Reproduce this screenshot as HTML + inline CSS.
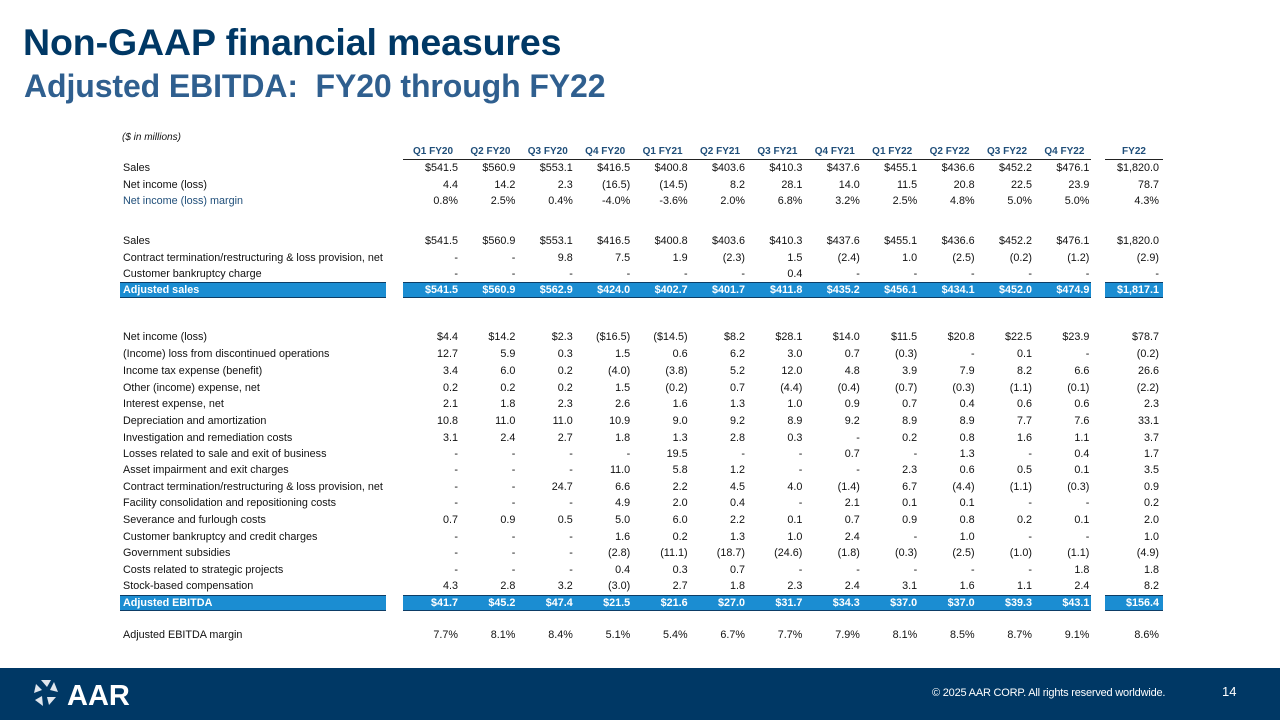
<!DOCTYPE html>
<html><head><meta charset="utf-8">
<style>
body{margin:0;width:1280px;height:720px;position:relative;background:#fff;font-family:"Liberation Sans",Arial,sans-serif;overflow:hidden}
.a{position:absolute;white-space:nowrap}
.t{font-size:10.8px;color:#111;line-height:12px}
.r{text-align:right;width:60px}
.h{font-size:10px;color:#1f4e79;font-weight:bold;text-align:center;width:60px}
.bar{position:absolute;background:#1b8dd2;border-top:1px solid #0d3d66;border-bottom:1px solid #0d3d66}
.w{color:#fff;font-weight:bold}
</style></head><body>
<div class="a" style="left:23px;top:21px;font-size:37.5px;font-weight:bold;color:#003865;letter-spacing:-0.1px">Non-GAAP financial measures</div>
<div class="a" style="left:24px;top:68px;font-size:32px;font-weight:bold;color:#2f5f8f;letter-spacing:-0.1px">Adjusted EBITDA:&nbsp; FY20 through FY22</div>
<div class="a t" style="left:122px;top:132px;font-style:italic;font-size:10px">($ in millions)</div>
<div class="a" style="left:403px;top:159px;width:688px;height:1px;background:#222"></div>
<div class="a" style="left:1105px;top:159px;width:58px;height:1px;background:#222"></div>
<div id="tbl"></div>
<div class="a" style="left:0;top:668px;width:1280px;height:52px;background:#003865">
  <svg class="a" style="left:32px;top:9px" width="120" height="34" viewBox="0 0 120 34">
    <g fill="#dfe6ee"><path d="M9 3 L19 3 L15 10 Z"/><path d="M22 5 L26 15 L18 13 Z"/><path d="M24 20 L17 28 L15 20 Z"/><path d="M11 29 L3 23 L10 19 Z"/><path d="M2 16 L4 7 L10 13 Z"/></g>
    <text x="35" y="28" font-family="Liberation Sans" font-weight="bold" font-size="29" fill="#fff">AAR</text>
  </svg>
  <div class="a" style="left:932px;top:19px;font-size:11px;color:#fff;letter-spacing:-0.2px">© 2025 AAR CORP. All rights reserved worldwide.</div>
  <div class="a" style="left:1222px;top:16px;font-size:13px;color:#fff">14</div>
</div>
<script>
const headers=["Q1 FY20","Q2 FY20","Q3 FY20","Q4 FY20","Q1 FY21","Q2 FY21","Q3 FY21","Q4 FY21","Q1 FY22","Q2 FY22","Q3 FY22","Q4 FY22","FY22"];
const rows=[
["Sales",168,["$541.5","$560.9","$553.1","$416.5","$400.8","$403.6","$410.3","$437.6","$455.1","$436.6","$452.2","$476.1","$1,820.0"]],
["Net income (loss)",185,["4.4","14.2","2.3","(16.5)","(14.5)","8.2","28.1","14.0","11.5","20.8","22.5","23.9","78.7"]],
["Net income (loss) margin",201,["0.8%","2.5%","0.4%","-4.0%","-3.6%","2.0%","6.8%","3.2%","2.5%","4.8%","5.0%","5.0%","4.3%"],"blue"],
["Sales",241,["$541.5","$560.9","$553.1","$416.5","$400.8","$403.6","$410.3","$437.6","$455.1","$436.6","$452.2","$476.1","$1,820.0"]],
["Contract termination/restructuring & loss provision, net",258,["-","-","9.8","7.5","1.9","(2.3)","1.5","(2.4)","1.0","(2.5)","(0.2)","(1.2)","(2.9)"]],
["Customer bankruptcy charge",274,["-","-","-","-","-","-","0.4","-","-","-","-","-","-"]],
["Adjusted sales",290,["$541.5","$560.9","$562.9","$424.0","$402.7","$401.7","$411.8","$435.2","$456.1","$434.1","$452.0","$474.9","$1,817.1"],"bar"],
["Net income (loss)",337,["$4.4","$14.2","$2.3","($16.5)","($14.5)","$8.2","$28.1","$14.0","$11.5","$20.8","$22.5","$23.9","$78.7"]],
["(Income) loss from discontinued operations",354,["12.7","5.9","0.3","1.5","0.6","6.2","3.0","0.7","(0.3)","-","0.1","-","(0.2)"]],
["Income tax expense (benefit)",371,["3.4","6.0","0.2","(4.0)","(3.8)","5.2","12.0","4.8","3.9","7.9","8.2","6.6","26.6"]],
["Other (income) expense, net",388,["0.2","0.2","0.2","1.5","(0.2)","0.7","(4.4)","(0.4)","(0.7)","(0.3)","(1.1)","(0.1)","(2.2)"]],
["Interest expense, net",404,["2.1","1.8","2.3","2.6","1.6","1.3","1.0","0.9","0.7","0.4","0.6","0.6","2.3"]],
["Depreciation and amortization",421,["10.8","11.0","11.0","10.9","9.0","9.2","8.9","9.2","8.9","8.9","7.7","7.6","33.1"]],
["Investigation and remediation costs",438,["3.1","2.4","2.7","1.8","1.3","2.8","0.3","-","0.2","0.8","1.6","1.1","3.7"]],
["Losses related to sale and exit of business",454,["-","-","-","-","19.5","-","-","0.7","-","1.3","-","0.4","1.7"]],
["Asset impairment and exit charges",470,["-","-","-","11.0","5.8","1.2","-","-","2.3","0.6","0.5","0.1","3.5"]],
["Contract termination/restructuring & loss provision, net",487,["-","-","24.7","6.6","2.2","4.5","4.0","(1.4)","6.7","(4.4)","(1.1)","(0.3)","0.9"]],
["Facility consolidation and repositioning costs",503,["-","-","-","4.9","2.0","0.4","-","2.1","0.1","0.1","-","-","0.2"]],
["Severance and furlough costs",520,["0.7","0.9","0.5","5.0","6.0","2.2","0.1","0.7","0.9","0.8","0.2","0.1","2.0"]],
["Customer bankruptcy and credit charges",537,["-","-","-","1.6","0.2","1.3","1.0","2.4","-","1.0","-","-","1.0"]],
["Government subsidies",553,["-","-","-","(2.8)","(11.1)","(18.7)","(24.6)","(1.8)","(0.3)","(2.5)","(1.0)","(1.1)","(4.9)"]],
["Costs related to strategic projects",570,["-","-","-","0.4","0.3","0.7","-","-","-","-","-","1.8","1.8"]],
["Stock-based compensation",586,["4.3","2.8","3.2","(3.0)","2.7","1.8","2.3","2.4","3.1","1.6","1.1","2.4","8.2"]],
["Adjusted EBITDA",603,["$41.7","$45.2","$47.4","$21.5","$21.6","$27.0","$31.7","$34.3","$37.0","$37.0","$39.3","$43.1","$156.4"],"bar"],
["Adjusted EBITDA margin",635,["7.7%","8.1%","8.4%","5.1%","5.4%","6.7%","7.7%","7.9%","8.1%","8.5%","8.7%","9.1%","8.6%"]]
];
const colRight=i=> i<12 ? 458+i*57.4 : 1159;
const root=document.getElementById('tbl');
headers.forEach((h,i)=>{
  const d=document.createElement('div');
  d.className='a h';
  
  
  d.style.left=(colRight(i)-55)+'px';d.style.top='146px';
  d.textContent=h;root.appendChild(d);
});
rows.forEach(r=>{
  const y=r[1]-6;
  if(r[3]==='bar'){
    const b1=document.createElement('div');b1.className='bar';
    
    
    b1.style.cssText+=`left:120px;top:${y-2}px;width:266px;height:14px`;root.appendChild(b1);
    const b2=document.createElement('div');b2.className='bar';
    
    
    b2.style.cssText+=`left:403px;top:${y-2}px;width:688px;height:14px`;root.appendChild(b2);
    const b3=document.createElement('div');b3.className='bar';
    
    
    b3.style.cssText+=`left:1105px;top:${y-2}px;width:58px;height:14px`;root.appendChild(b3);
  }
  const l=document.createElement('div');
  l.className='a t'+(r[3]==='bar'?' w':'');
  
  
  l.style.left='123px';l.style.top=y+'px';
  if(r[3]==='blue')l.style.color='#1f4e79';
  l.textContent=r[0];root.appendChild(l);
  r[2].forEach((v,i)=>{
    const c=document.createElement('div');
    c.className='a t r'+(r[3]==='bar'?' w':'');
    
    
    c.style.left=(colRight(i)-60)+'px';c.style.top=y+'px';
    c.textContent=v;root.appendChild(c);
  });
});
</script>
</body></html>
